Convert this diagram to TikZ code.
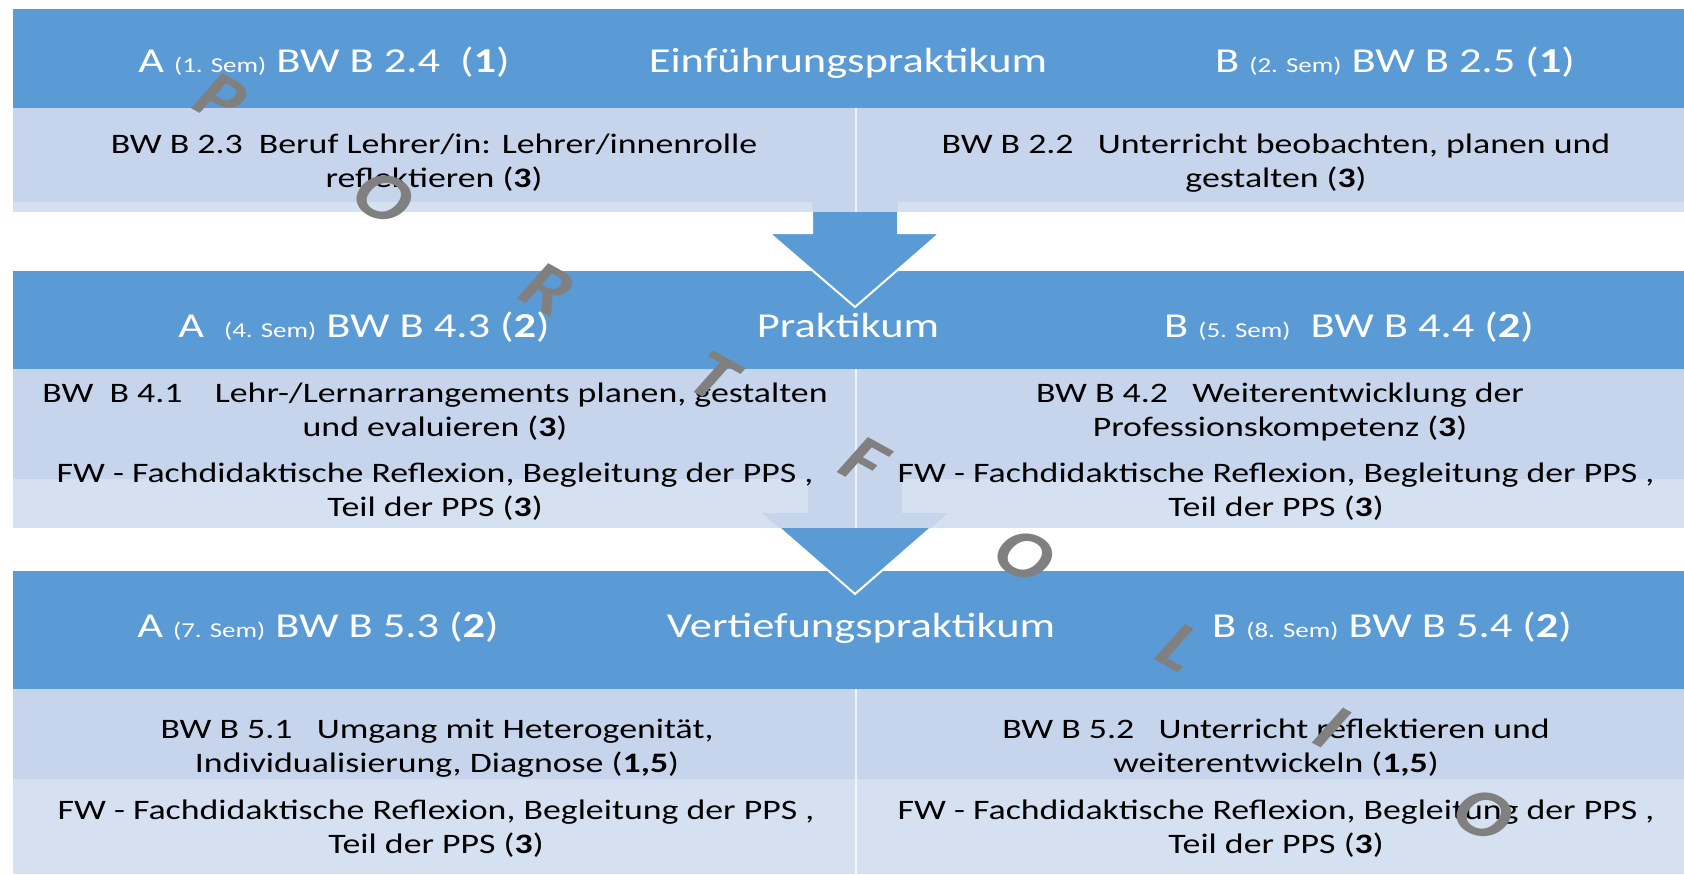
\documentclass[tikz,border=0pt]{standalone}
\usepackage{fontspec}
\setmainfont{Carlito}
\definecolor{hdrblue}{HTML}{5B9BD5}
\definecolor{rowdark}{HTML}{C6D5EB}
\definecolor{rowlight}{HTML}{D5E1F1}
\definecolor{lettergrey}{HTML}{808080}
\newcommand{\semtag}[1]{{\fontsize{10.6}{12}\selectfont(#1. Sem)}}
\begin{document}
\begin{tikzpicture}[x=0.5pt, y=-0.5pt,
  hdr/.style={anchor=base, inner sep=0pt, text=white, xscale=1.27, font=\fontsize{17.5}{21}\selectfont},
  cell/.style={anchor=base, inner sep=0pt, align=center, xscale=1.27, font=\fontsize{14.1}{16.8}\selectfont},
  letter/.style={inner sep=0pt, text=lettergrey, xscale=1.27, font=\fontsize{33}{33}\selectfont\bfseries},
  bigarrow/.style={fill=hdrblue, draw=white, line width=1pt, line join=miter},
  divider/.style={draw=white, line width=0.6pt, opacity=0.7}]
\useasboundingbox (0,0) rectangle (1684,874);
\fill[hdrblue] (13,9) rectangle (1684,108);
\fill[rowdark] (13,108) rectangle (1684,212);
\fill[rowlight] (13,202) rectangle (1684,212);
\fill[hdrblue] (13,271) rectangle (1684,369);
\fill[rowdark] (13,369) rectangle (1684,528);
\fill[rowlight] (13,479) rectangle (1684,528);
\fill[hdrblue] (13,571) rectangle (1684,689);
\fill[rowdark] (13,689) rectangle (1684,779);
\fill[rowlight] (13,779) rectangle (1684,874);
\begin{scope}
\clip (0,0) rectangle (1684,212);
\fill[rowdark] (812,190) -- (898,190) -- (898,233) -- (940,233) -- (855,307) -- (769,233) -- (812,233) -- cycle;
\end{scope}
\begin{scope}
\clip (0,212) rectangle (1684,874);
\draw[bigarrow] (812,190) -- (898,190) -- (898,233) -- (940,233) -- (855,307) -- (769,233) -- (812,233) -- cycle;
\end{scope}
\begin{scope}
\clip (0,0) rectangle (1684,528);
\fill[rowdark] (808,470) -- (902,470) -- (902,513) -- (948,513) -- (855,594) -- (762,513) -- (808,513) -- cycle;
\end{scope}
\begin{scope}
\clip (0,528) rectangle (1684,874);
\draw[bigarrow] (808,470) -- (902,470) -- (902,513) -- (948,513) -- (855,594) -- (762,513) -- (808,513) -- cycle;
\end{scope}
\draw[divider] (856,108) -- (856,212);
\draw[divider] (856,369) -- (856,528);
\draw[divider] (856,689) -- (856,874);
\node[hdr] (H_1_0) at (324,72) {A \semtag{1} BW B 2.4\ \ (\textbf{1})};
\node[hdr] (H_1_1) at (848,72) {Einführungspraktikum};
\node[hdr] (H_1_2) at (1395,72) {B \semtag{2} BW B 2.5 (\textbf{1})};
\node[hdr] (H_2_0) at (364,337) {A\ \ \semtag{4} BW B 4.3 (\textbf{2})};
\node[hdr] (H_2_1) at (848,337) {Praktikum};
\node[hdr] (H_2_2) at (1349,337) {B \semtag{5}\ \ BW B 4.4 (\textbf{2})};
\node[hdr] (H_3_0) at (318,637) {A \semtag{7} BW B 5.3 (\textbf{2})};
\node[hdr] (H_3_1) at (861,637) {Vertiefungspraktikum};
\node[hdr] (H_3_2) at (1392,637) {B \semtag{8} BW B 5.4 (\textbf{2})};
\node[cell] (C_1_0) at (434,187) {BW B 2.3\ \ Beruf Lehrer/in: Lehrer/innenrolle\\reflektieren (\textbf{3})};
\node[cell] (C_1_1) at (1276,187) {BW B 2.2\ \ \ Unterricht beobachten, planen und\\gestalten (\textbf{3})};
\node[cell] (C_2_0) at (435,436) {BW\ \ B 4.1\ \ \ \ Lehr-/Lernarrangements planen, gestalten\\und evaluieren (\textbf{3})};
\node[cell] (F_2_0) at (435,516) {FW - Fachdidaktische Reflexion, Begleitung der PPS ,\\Teil der PPS (\textbf{3})};
\node[cell] (C_2_1) at (1280,436) {BW B 4.2\ \ \ Weiterentwicklung der\\Professionskompetenz (\textbf{3})};
\node[cell] (F_2_1) at (1276,516) {FW - Fachdidaktische Reflexion, Begleitung der PPS ,\\Teil der PPS (\textbf{3})};
\node[cell] (C_3_0) at (437,772) {BW B 5.1\ \ \ Umgang mit Heterogenität,\\Individualisierung, Diagnose (\textbf{1,5})};
\node[cell] (F_3_0) at (436,853) {FW - Fachdidaktische Reflexion, Begleitung der PPS ,\\Teil der PPS (\textbf{3})};
\node[cell] (C_3_1) at (1276,772) {BW B 5.2\ \ \ Unterricht reflektieren und\\weiterentwickeln (\textbf{1,5})};
\node[cell] (F_3_1) at (1276,853) {FW - Fachdidaktische Reflexion, Begleitung der PPS ,\\Teil der PPS (\textbf{3})};
\node[letter, rotate=-35] (L_1) at (221,99) {P};
\node[letter, rotate=-35] (L_2) at (384,198) {O};
\node[letter, rotate=-35] (L_3) at (548,290) {R};
\node[letter, rotate=-35] (L_4) at (714,377) {T};
\node[letter, rotate=-35] (L_5) at (865,462) {F};
\node[letter, rotate=-35] (L_6) at (1025,556) {O};
\node[letter, rotate=-35] (L_7) at (1181,648) {L};
\node[letter, rotate=-35] (L_8) at (1332,728) {I};
\node[letter, rotate=-35] (L_9) at (1484,815) {O};
\end{tikzpicture}
\end{document}
